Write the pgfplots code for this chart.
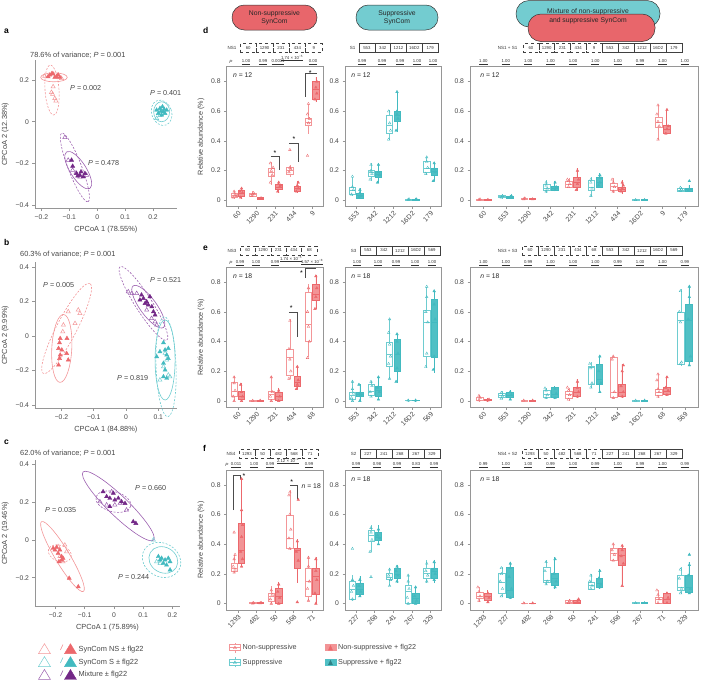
\documentclass[border=0pt]{standalone}
\usepackage{pgfplots}
\pgfplotsset{compat=1.18}
\usepgfplotslibrary{statistics}
\usepackage{fontspec}
\setmainfont{Liberation Sans}
\definecolor{nsred}{RGB}{236,104,108}
\definecolor{nsbox}{RGB}{243,150,152}
\definecolor{nsfill}{RGB}{242,148,150}
\definecolor{steal}{RGB}{66,186,192}
\definecolor{stbox}{RGB}{110,204,208}
\definecolor{stfill}{RGB}{80,192,197}
\definecolor{mixp}{RGB}{115,40,135}
\definecolor{mixpl}{RGB}{155,95,175}
\definecolor{pillred}{RGB}{232,102,107}
\definecolor{pillteal}{RGB}{115,204,208}
\definecolor{axgray}{RGB}{150,150,150}
\definecolor{tickgray}{RGB}{70,70,70}
\newcommand{\fs}[1]{\fontsize{#1}{#1}\selectfont}
\def\bxw{0.34}
\newcommand{\BO}[7]{\addplot[draw=#7, line width=0.5pt, boxplot prepared={draw direction=y, draw position=#1, lower whisker=#2, lower quartile=#3, median=#4, upper quartile=#5, upper whisker=#6, box extend=\bxw, whisker extend=0}] coordinates {};}
\newcommand{\BF}[8]{\addplot[draw=#7, fill=#8, line width=0.5pt, boxplot prepared={draw direction=y, draw position=#1, lower whisker=#2, lower quartile=#3, median=#4, upper quartile=#5, upper whisker=#6, box extend=\bxw, whisker extend=0}] coordinates {};}
\newcommand{\cells}[5]{\foreach \t [count=\i] in {#5} {\node[draw=black!75, #4, line width=0.35pt, minimum width=#3pt, minimum height=9pt, inner sep=0pt, font=\fs{4.3}, text=black!80] at ({#1pt+#3pt*(\i-0.5)},{-#2pt}) {\t};}}
\newcommand{\pv}[3]{\node[font=\fs{4.3}, text=black!80, inner sep=0.5pt] at (#1pt,-#2pt) {\underline{#3}};}
\newcommand{\nlab}[3]{\node[font=\fs{4.5}, text=black!80, anchor=east, inner sep=0.5pt] at (#1pt,-#2pt) {#3};}
\pgfplotsset{
 pc/.style={scale only axis, axis x line*=bottom, axis y line*=left, axis line style={axgray,line width=0.5pt,-}, tick style={axgray,line width=0.5pt}, tick align=outside, major tick length=2.5pt, tick label style={font=\fs{6.8}, text=tickgray}, label style={font=\fs{7.4}, text=tickgray}, clip=false},
 pro/.style={only marks, mark=triangle, mark size=2.4pt, mark options={draw=#1, line width=0.5pt, fill=none}},
 prf/.style={only marks, mark=triangle*, mark size=2.4pt, mark options={draw=#1, fill=#1}},
 bx/.style={scale only axis, height=140pt, xmin=0.4, ymin=-0.043, ymax=0.9, axis line style={axgray, line width=0.5pt}, tick style={axgray, line width=0.5pt}, tick align=outside, tick pos=left, major tick length=2.5pt, ytick={0,0.2,0.4,0.6,0.8}, yticklabels={0,0.2,0.4,0.6,0.8}, xticklabel style={rotate=45, anchor=north east, inner sep=1pt}, tick label style={font=\fs{6.8}, text=tickgray}, ylabel style={font=\fs{7.2}, text=tickgray}, clip=false, boxplot/draw direction=y},
 bx5/.style={bx, width=96.6pt, xmax=5.6, xtick={1,2,3,4,5}},
 bx10/.style={bx, width=228.3pt, xmax=10.6, xtick={1,2,3,4,5,6,7,8,9,10}},
 bo/.style={only marks, mark=triangle, mark size=1.5pt, mark options={draw=#1, line width=0.35pt, fill=none}},
 bf/.style={only marks, mark=triangle*, mark size=1.5pt, mark options={draw=#1, fill=#1}},
}
\newcommand{\nn}[1]{\node[anchor=north west, font=\fs{6.8}, text=black!85] at (rel axis cs:0.03,0.98) {\textit{n} = #1};}
\begin{document}
\begin{tikzpicture}
\useasboundingbox (0pt,0pt) rectangle (705pt,-683pt);
% panel letters
\foreach \l/\x/\y in {a/4/31,b/4/242,c/4/442,d/203/30,e/203/248,f/203/448}{\node[font=\bfseries\fs{8.5}, anchor=west, inner sep=0pt] at (\x pt,-\y pt) {\l};}
% titles
\node[font=\fs{7.4}, text=tickgray, anchor=west, inner sep=0pt] at (30pt,-55pt) {78.6\% of variance; \textit{P} = 0.001};
\node[font=\fs{7.4}, text=tickgray, anchor=west, inner sep=0pt] at (20pt,-254pt) {60.3\% of variance; \textit{P} = 0.001};
\node[font=\fs{7.4}, text=tickgray, anchor=west, inner sep=0pt] at (20pt,-453pt) {62.0\% of variance; \textit{P} = 0.001};
% ===== panel a
\begin{axis}[pc, at={(35pt,-208.3pt)}, anchor=south west, width=141.7pt, height=148.3pt,
 xmin=-0.223, xmax=0.285, ymin=-0.415, ymax=0.296,
 xtick={-0.2,-0.1,0,0.1,0.2}, xticklabels={−0.2,−0.1,0,0.1,0.2},
 ytick={-0.4,-0.2,0,0.2}, yticklabels={−0.4,−0.2,0,0.2},
 xlabel={CPCoA 1 (78.55\%)}, ylabel={CPCoA 2 (12.38\%)}]
\addplot[pro=nsbox] coordinates {(-0.158,0.168) (-0.164,0.141) (-0.160,0.132) (-0.152,0.112) (-0.148,0.100) (-0.128,0.208) (-0.188,0.219)};
\addplot[prf=nsred] coordinates {(-0.17,0.224) (-0.158,0.229) (-0.146,0.216) (-0.134,0.213) (-0.152,0.213) (-0.176,0.216) (-0.162,0.232) (-0.14,0.225)};
\addplot[pro=stbox] coordinates {(0.213,0.016) (0.225,0.03)};
\addplot[prf=steal] coordinates {(0.213,0.056) (0.225,0.064) (0.237,0.048) (0.243,0.04) (0.219,0.04) (0.231,0.032) (0.249,0.056) (0.234,0.072) (0.228,0.05) (0.24,0.06)};
\addplot[pro=mixpl] coordinates {(-0.116,-0.075) (-0.104,-0.184) (-0.088,-0.232) (-0.076,-0.245) (-0.062,-0.264) (-0.038,-0.256)};
\addplot[prf=mixp] coordinates {(-0.092,-0.184) (-0.088,-0.213) (-0.074,-0.248) (-0.062,-0.256) (-0.05,-0.264) (-0.044,-0.248) (-0.07,-0.26) (-0.058,-0.24)};
\draw[nsbox, line width=0.6pt] (axis cs:-0.155,0.213) ellipse [x radius=13.3pt, y radius=4.5pt];
\draw[nsbox, line width=0.6pt, dash pattern=on 2pt off 1.5pt, rotate around={4:(axis cs:-0.162,0.152)}] (axis cs:-0.162,0.152) ellipse [x radius=7pt, y radius=25pt];
\draw[stbox, line width=0.6pt] (axis cs:0.231,0.048) ellipse [x radius=8pt, y radius=10pt];
\draw[stbox, line width=0.6pt, dash pattern=on 2pt off 1.5pt, rotate around={20:(axis cs:0.231,0.043)}] (axis cs:0.231,0.043) ellipse [x radius=10pt, y radius=13pt];
\draw[mixpl, line width=0.6pt, rotate around={-57.5:(axis cs:-0.068,-0.232)}] (axis cs:-0.068,-0.232) ellipse [x radius=21.7pt, y radius=8pt];
\draw[mixpl, line width=0.6pt, dash pattern=on 2pt off 1.5pt, rotate around={-69:(axis cs:-0.080,-0.219)}] (axis cs:-0.080,-0.219) ellipse [x radius=36.7pt, y radius=6.7pt];
\end{axis}
\node[font=\fs{7.2}, text=tickgray, anchor=west, inner sep=0pt] at (70pt,-88pt) {\textit{P} = 0.002};
\node[font=\fs{7.2}, text=tickgray, anchor=west, inner sep=0pt] at (150pt,-93pt) {\textit{P} = 0.401};
\node[font=\fs{7.2}, text=tickgray, anchor=west, inner sep=0pt] at (88pt,-163pt) {\textit{P} = 0.478};
% ===== panel b
\begin{axis}[pc, at={(35pt,-408.3pt)}, anchor=south west, width=141.7pt, height=146.3pt,
 xmin=-0.282, xmax=0.157, ymin=-0.419, ymax=0.429,
 xtick={-0.2,-0.1,0,0.1}, xticklabels={−0.2,−0.1,0,0.1},
 ytick={-0.4,-0.2,0,0.2,0.4}, yticklabels={−0.4,−0.2,0,0.2,0.4},
 xlabel={CPCoA 1 (84.88\%)}, ylabel={CPCoA 2 (9.99\%)}]
\addplot[pro=nsbox] coordinates {(-0.179,0.141) (-0.148,0.151) (-0.143,0.131) (-0.158,0.073) (-0.194,0.064) (-0.196,0.025)};
\addplot[prf=nsred] coordinates {(-0.204,-0.014) (-0.206,-0.039) (-0.183,-0.014) (-0.209,-0.072) (-0.199,-0.081) (-0.204,-0.110) (-0.206,-0.130) (-0.209,-0.168) (-0.179,-0.139) (-0.184,-0.101)};
\addplot[pro=mixpl] coordinates {(0.007,0.257) (0.018,0.247) (0.033,0.247) (0.064,0.151) (0.090,0.083) (0.095,0.064) (0.079,0.102)};
\addplot[prf=mixp] coordinates {(0.043,0.209) (0.054,0.218) (0.064,0.199) (0.069,0.180) (0.080,0.170) (0.085,0.141) (0.090,0.122) (0.074,0.228) (0.059,0.189) (0.048,0.238)};
\addplot[pro=stbox] coordinates {(0.121,-0.100) (0.116,-0.178) (0.131,-0.226) (0.136,-0.236) (0.105,-0.255) (0.126,-0.139)};
\addplot[prf=steal] coordinates {(0.116,-0.039) (0.121,-0.081) (0.126,-0.110) (0.131,-0.130) (0.116,-0.158) (0.121,-0.197) (0.126,-0.245) (0.116,-0.236) (0.095,-0.120) (0.105,-0.091) (0.131,-0.072)};
\draw[nsbox, line width=0.6pt, rotate around={-3:(axis cs:-0.199,-0.072)}] (axis cs:-0.199,-0.072) ellipse [x radius=10pt, y radius=34pt];
\draw[nsbox, line width=0.6pt, dash pattern=on 2pt off 1.5pt, rotate around={62.6:(axis cs:-0.184,0.044)}] (axis cs:-0.184,0.044) ellipse [x radius=50.7pt, y radius=10pt];
\draw[mixpl, line width=0.6pt, rotate around={-54:(axis cs:0.069,0.170)}] (axis cs:0.069,0.170) ellipse [x radius=25.7pt, y radius=8.3pt];
\draw[mixpl, line width=0.6pt, dash pattern=on 2pt off 1.5pt, rotate around={-57.5:(axis cs:0.054,0.189)}] (axis cs:0.054,0.189) ellipse [x radius=43.5pt, y radius=8.3pt];
\draw[stbox, line width=0.6pt] (axis cs:0.121,-0.139) ellipse [x radius=10pt, y radius=40pt];
\draw[stbox, line width=0.6pt, dash pattern=on 2pt off 1.5pt, rotate around={2:(axis cs:0.124,-0.178)}] (axis cs:0.124,-0.178) ellipse [x radius=10pt, y radius=50pt];
\end{axis}
\node[font=\fs{7.2}, text=tickgray, anchor=west, inner sep=0pt] at (43pt,-285pt) {\textit{P} = 0.005};
\node[font=\fs{7.2}, text=tickgray, anchor=west, inner sep=0pt] at (150pt,-280pt) {\textit{P} = 0.521};
\node[font=\fs{7.2}, text=tickgray, anchor=west, inner sep=0pt] at (117pt,-378pt) {\textit{P} = 0.819};
% ===== panel c
\begin{axis}[pc, at={(35pt,-606.7pt)}, anchor=south west, width=145pt, height=146.7pt,
 xmin=-0.27, xmax=0.226, ymin=-0.354, ymax=0.424,
 xtick={-0.2,-0.1,0,0.1,0.2}, xticklabels={−0.2,−0.1,0,0.1,0.2},
 ytick={-0.2,0,0.2,0.4}, yticklabels={−0.2,0,0.2,0.4},
 xlabel={CPCoA 1 (75.89\%)}, ylabel={CPCoA 2 (19.46\%)}]
\addplot[pro=nsbox] coordinates {(-0.191,-0.035) (-0.168,-0.027) (-0.162,-0.062) (-0.185,-0.088) (-0.174,-0.115)};
\addplot[prf=nsred] coordinates {(-0.208,-0.044) (-0.196,-0.039) (-0.185,-0.053) (-0.191,-0.071) (-0.179,-0.088) (-0.174,-0.097) (-0.188,-0.115) (-0.179,-0.106) (-0.153,-0.203) (-0.122,-0.248) (-0.202,-0.053)};
\addplot[pro=mixpl] coordinates {(-0.008,0.256) (-0.025,0.186) (0.003,0.186) (0.021,0.195) (0.043,0.159) (-0.048,0.203)};
\addplot[prf=mixp] coordinates {(-0.037,0.256) (-0.025,0.230) (-0.014,0.221) (0.003,0.212) (0.015,0.221) (0.026,0.203) (0.038,0.194) (-0.014,0.177) (0.066,0.097) (0.075,0.088) (-0.002,0.248)};
\addplot[pro=stbox] coordinates {(0.135,0.0) (0.158,-0.124) (0.146,-0.115)};
\addplot[prf=steal] coordinates {(0.152,-0.088) (0.163,-0.097) (0.175,-0.106) (0.186,-0.097) (0.192,-0.115) (0.169,-0.124) (0.180,-0.133) (0.192,-0.159) (0.158,-0.106)};
\draw[nsbox, line width=0.6pt, rotate around={-59:(axis cs:-0.176,-0.088)}] (axis cs:-0.176,-0.088) ellipse [x radius=40.7pt, y radius=7.3pt];
\draw[nsbox, line width=0.6pt, dash pattern=on 2pt off 1.5pt, rotate around={-20:(axis cs:-0.185,-0.071)}] (axis cs:-0.185,-0.071) ellipse [x radius=12pt, y radius=8pt];
\draw[mixpl, line width=0.6pt, rotate around={-44:(axis cs:0.015,0.180)}] (axis cs:0.015,0.180) ellipse [x radius=49pt, y radius=10pt];
\draw[mixpl, line width=0.6pt, dash pattern=on 2pt off 1.5pt, rotate around={-15:(axis cs:-0.002,0.203)}] (axis cs:-0.002,0.203) ellipse [x radius=18pt, y radius=10pt];
\draw[stbox, line width=0.6pt, rotate around={-30:(axis cs:0.169,-0.106)}] (axis cs:0.169,-0.106) ellipse [x radius=15pt, y radius=12.7pt];
\draw[stbox, line width=0.6pt, dash pattern=on 2pt off 1.5pt, rotate around={-30:(axis cs:0.163,-0.106)}] (axis cs:0.163,-0.106) ellipse [x radius=20pt, y radius=16.7pt];
\end{axis}
\node[font=\fs{7.2}, text=tickgray, anchor=west, inner sep=0pt] at (45pt,-510pt) {\textit{P} = 0.035};
\node[font=\fs{7.2}, text=tickgray, anchor=west, inner sep=0pt] at (135pt,-488pt) {\textit{P} = 0.660};
\node[font=\fs{7.2}, text=tickgray, anchor=west, inner sep=0pt] at (118pt,-577pt) {\textit{P} = 0.244};
% PCoA legend
\begin{axis}[hide axis, scale only axis, width=10pt, height=10pt, xmin=0, xmax=1, ymin=0, ymax=1, at={(38pt,-643pt)}, anchor=north west,
 legend style={at={(0,1)}, anchor=north west, draw=none, fill=none, font=\fs{7.4}, text=tickgray, row sep=1.5pt, inner sep=0pt}, legend cell align=left]
\addlegendimage{legend image code/.code={\draw[nsbox, line width=0.5pt] (0pt,-4.5pt) -- (12pt,-4.5pt) -- (6pt,5.5pt) -- cycle; \node[text=nsred, font=\fs{7.5}\itshape] at (20pt,0.5pt) {/}; \fill[nsred] (26pt,-4.5pt) -- (38pt,-4.5pt) -- (32pt,5.5pt) -- cycle;}}
\addlegendentry{SynCom NS ± flg22}
\addlegendimage{legend image code/.code={\draw[stbox, line width=0.5pt] (0pt,-4.5pt) -- (12pt,-4.5pt) -- (6pt,5.5pt) -- cycle; \node[text=steal, font=\fs{7.5}\itshape] at (20pt,0.5pt) {/}; \fill[steal] (26pt,-4.5pt) -- (38pt,-4.5pt) -- (32pt,5.5pt) -- cycle;}}
\addlegendentry{SynCom S ± flg22}
\addlegendimage{legend image code/.code={\draw[mixpl, line width=0.5pt] (0pt,-4.5pt) -- (12pt,-4.5pt) -- (6pt,5.5pt) -- cycle; \node[text=mixp, font=\fs{7.5}\itshape] at (20pt,0.5pt) {/}; \fill[mixp] (26pt,-4.5pt) -- (38pt,-4.5pt) -- (32pt,5.5pt) -- cycle;}}
\addlegendentry{Mixture ± flg22}
\end{axis}
% ===== pills
\draw[fill=pillred, draw=black!80, line width=0.5pt, rounded corners=12.4pt] (232pt,-5pt) rectangle (317pt,-30pt);
\node[align=center, font=\fontsize{6.8}{8}\selectfont, text=black!85] at (274.5pt,-17.5pt) {Non-suppressive\\SynCom};
\draw[fill=pillteal, draw=black!80, line width=0.5pt, rounded corners=12.4pt] (356pt,-5pt) rectangle (438pt,-30pt);
\node[align=center, font=\fontsize{6.8}{8}\selectfont, text=black!85] at (397pt,-17.5pt) {Suppressive\\SynCom};
\draw[fill=pillteal, draw=black!80, line width=0.5pt, rounded corners=13pt] (516pt,-0.5pt) rectangle (660pt,-27pt);
\draw[fill=pillred, draw=black!80, line width=0.5pt, rounded corners=13pt] (528pt,-14pt) rectangle (655pt,-41.5pt);
\node[align=center, font=\fontsize{6.8}{9.5}\selectfont, text=black!85] at (588pt,-16pt) {Mixture of non-suppressive\\and suppressive SynCom};
% ===== headers row d
\nlab{237}{48}{NS1}\cells{240}{48}{16.4}{dashed}{60,1290,231,434,9}
\nlab{233}{62}{\textit{P}}
\pv{246}{62}{1.00}\pv{263}{62}{0.99}\pv{278}{62}{0.0011}\pv{292}{58}{1.74 × 10\textsuperscript{−5}}\pv{313}{62}{0.00}
\nlab{356}{48}{S1}\cells{359}{48}{15.8}{solid}{553,342,1212,16D2,179}
\pv{362}{62}{0.99}\pv{382}{62}{0.99}\pv{400}{62}{0.99}\pv{417}{62}{1.00}\pv{433}{62}{1.00}
\nlab{518}{48}{NS1 + S1}\cells{523}{48}{15.8}{dashed}{60,1290,231,434,9}\cells{602}{48}{16}{solid}{553,342,1212,16D2,179}
\pv{483.4}{62}{1.00}\pv{505.8}{62}{1.00}\pv{528.2}{62}{1.00}\pv{550.6}{62}{1.00}\pv{573}{62}{1.00}\pv{595.3}{62}{1.00}\pv{617.7}{62}{1.00}\pv{640.1}{62}{0.99}\pv{662.5}{62}{1.00}\pv{684.9}{62}{1.00}
% ===== headers row e
\nlab{237}{250.5}{NS3}\cells{240}{250.5}{15.4}{dashed}{60,1290,231,434,68}
\nlab{233}{263}{\textit{P}}
\pv{240}{263}{0.99}\pv{256}{263}{1.00}\pv{275}{263}{0.99}\pv{291}{259}{1.74 × 10\textsuperscript{−5}}\pv{312}{262}{1.57 × 10\textsuperscript{−8}}
\nlab{357}{250.5}{S3}\cells{360}{250.5}{16}{solid}{553,342,1212,16D2,569}
\pv{357}{263}{1.00}\pv{378}{263}{1.00}\pv{396}{263}{0.99}\pv{415}{263}{1.00}\pv{432}{263}{1.00}
\nlab{518}{250.5}{NS3 + S3}\cells{522}{250.5}{16}{dashed}{60,1290,231,434,68}\cells{602}{250.5}{16}{solid}{553,342,1212,16D2,569}
\pv{483.4}{263}{1.00}\pv{505.8}{263}{1.00}\pv{528.2}{263}{0.99}\pv{550.6}{263}{1.00}\pv{573}{263}{1.00}\pv{595.3}{263}{1.00}\pv{617.7}{263}{0.99}\pv{640.1}{263}{1.00}\pv{662.5}{263}{1.00}\pv{684.9}{263}{0.99}
% ===== headers row f
\nlab{236}{454}{NS4}\cells{239}{454}{15.8}{dashed}{1293,50,482,568,71}
\nlab{229}{465}{\textit{P}}
\pv{236}{465}{0.011}\pv{254}{465}{1.00}\pv{270}{465}{0.99}\pv{288}{461}{2.12 × 10\textsuperscript{−4}}\pv{309}{465}{0.99}
\nlab{357}{454}{S2}\cells{360}{454}{16}{solid}{227,241,268,267,329}
\pv{356}{465}{0.99}\pv{377}{465}{0.98}\pv{397}{465}{0.99}\pv{416}{465}{0.83}\pv{434}{465}{0.99}
\nlab{518}{454}{NS4 + S2}\cells{522}{454}{16}{dashed}{1293,50,482,568,71}\cells{602}{454}{16}{solid}{227,241,268,267,329}
\pv{483.4}{465}{0.99}\pv{505.8}{465}{1.00}\pv{528.2}{465}{1.00}\pv{550.6}{465}{0.99}\pv{573}{465}{1.00}\pv{595.3}{465}{0.99}\pv{617.7}{465}{1.00}\pv{640.1}{465}{0.99}\pv{662.5}{465}{1.00}\pv{684.9}{465}{0.99}
% ===== d1
\def\bxw{0.34}
\begin{axis}[bx5, at={(226.7pt,-206.7pt)}, anchor=south west, xticklabels={60,1290,231,434,9}, ylabel={Relative abundance (\%)}]
\BO{0.8}{0.01}{0.02}{0.035}{0.05}{0.065}{nsbox}\BF{1.2}{0.01}{0.025}{0.045}{0.07}{0.08}{nsred}{nsfill}
\BO{1.8}{0.02}{0.028}{0.038}{0.048}{0.06}{nsbox}\BF{2.2}{0.005}{0.01}{0.013}{0.018}{0.022}{nsred}{nsfill}
\BO{2.8}{0.105}{0.16}{0.19}{0.215}{0.26}{nsbox}\BF{3.2}{0.05}{0.076}{0.09}{0.105}{0.127}{nsred}{nsfill}
\BO{3.8}{0.16}{0.178}{0.205}{0.225}{0.24}{nsbox}\BF{4.2}{0.05}{0.06}{0.08}{0.098}{0.127}{nsred}{nsfill}
\BO{4.8}{0.45}{0.506}{0.528}{0.55}{0.65}{nsbox}\BF{5.2}{0.66}{0.68}{0.75}{0.8}{0.83}{nsred}{nsfill}
\addplot[bo=nsred] coordinates {(0.75,0.02) (0.85,0.04) (0.8,0.06) (0.9,0.03) (1.75,0.03) (1.85,0.05) (1.8,0.04) (2.75,0.12) (2.85,0.17) (2.8,0.2) (2.9,0.22) (2.75,0.25) (3.75,0.19) (3.85,0.21) (3.8,0.22) (3.8,0.34) (4.75,0.3) (4.8,0.52) (4.85,0.55) (4.75,0.58) (4.8,0.65)};
\addplot[bf=nsred] coordinates {(1.15,0.02) (1.25,0.05) (1.2,0.08) (1.1,0.06) (2.2,0.01) (2.25,0.015) (3.15,0.06) (3.25,0.09) (3.2,0.12) (3.3,0.1) (4.15,0.06) (4.25,0.08) (4.2,0.1) (4.25,0.12) (5.15,0.68) (5.25,0.72) (5.2,0.76) (5.25,0.8)};
\nn{12}
\draw[black!70, line width=0.4pt] (axis cs:2.78,0.294) -- (axis cs:3.25,0.294) -- (axis cs:3.25,0.205);
\node[font=\fs{7}] at (axis cs:3.0,0.32) {*};
\draw[black!70, line width=0.4pt] (axis cs:3.77,0.383) -- (axis cs:4.25,0.383) -- (axis cs:4.25,0.261);
\node[font=\fs{7}] at (axis cs:4.02,0.41) {*};
\draw[black!70, line width=0.4pt] (axis cs:4.62,0.696) -- (axis cs:4.62,0.856) -- (axis cs:5.24,0.856);
\node[font=\fs{7}] at (axis cs:4.9,0.86) {*};
\end{axis}
% ===== d2
\begin{axis}[bx5, at={(345pt,-206.7pt)}, anchor=south west, xticklabels={553,342,1212,16D2,179}]
\BO{0.8}{0.027}{0.038}{0.071}{0.089}{0.16}{stbox}\BF{1.2}{0.01}{0.016}{0.031}{0.049}{0.082}{steal}{stfill}
\BO{1.8}{0.127}{0.16}{0.187}{0.205}{0.25}{stbox}\BF{2.2}{0.116}{0.156}{0.178}{0.194}{0.25}{steal}{stfill}
\BO{2.8}{0.406}{0.45}{0.506}{0.573}{0.61}{stbox}\BF{3.2}{0.46}{0.53}{0.575}{0.6}{0.73}{steal}{stfill}
\BO{3.8}{0.0}{0.002}{0.005}{0.008}{0.012}{stbox}\BF{4.2}{0.0}{0.002}{0.005}{0.008}{0.012}{steal}{stfill}
\BO{4.8}{0.17}{0.19}{0.216}{0.26}{0.294}{stbox}\BF{5.2}{0.127}{0.17}{0.198}{0.216}{0.26}{steal}{stfill}
\addplot[bo=steal] coordinates {(0.75,0.04) (0.85,0.07) (0.8,0.09) (0.8,0.16) (1.75,0.14) (1.85,0.18) (1.8,0.2) (1.8,0.24) (2.75,0.41) (2.85,0.47) (2.8,0.52) (2.75,0.6) (3.8,0.005) (3.85,0.008) (4.75,0.18) (4.85,0.22) (4.8,0.26) (4.8,0.29)};
\addplot[bf=steal] coordinates {(1.15,0.02) (1.25,0.03) (1.2,0.05) (1.2,0.07) (2.15,0.12) (2.25,0.17) (2.2,0.19) (2.2,0.24) (3.15,0.47) (3.25,0.55) (3.2,0.58) (3.2,0.6) (3.2,0.73) (4.2,0.005) (4.25,0.007) (5.15,0.13) (5.25,0.19) (5.2,0.21) (5.2,0.25)};
\nn{12}
\end{axis}
% ===== d3
\def\bxw{0.3}
\begin{axis}[bx10, at={(470pt,-206.7pt)}, anchor=south west, xticklabels={60,553,1290,342,231,1212,434,16D2,9,179}]
\BO{0.82}{0.0}{0.002}{0.004}{0.006}{0.01}{nsbox}\BF{1.18}{0.0}{0.002}{0.004}{0.006}{0.01}{nsred}{nsfill}
\BO{1.82}{0.01}{0.018}{0.025}{0.035}{0.04}{stbox}\BF{2.18}{0.01}{0.016}{0.022}{0.03}{0.038}{steal}{stfill}
\BO{2.82}{0.003}{0.006}{0.01}{0.014}{0.02}{nsbox}\BF{3.18}{0.003}{0.006}{0.008}{0.012}{0.016}{nsred}{nsfill}
\BO{3.82}{0.05}{0.067}{0.083}{0.105}{0.138}{stbox}\BF{4.18}{0.06}{0.067}{0.083}{0.098}{0.127}{steal}{stfill}
\BO{4.82}{0.083}{0.089}{0.111}{0.127}{0.15}{nsbox}\BF{5.18}{0.06}{0.089}{0.12}{0.156}{0.216}{nsred}{nsfill}
\BO{5.82}{0.027}{0.067}{0.089}{0.138}{0.16}{stbox}\BF{6.18}{0.083}{0.089}{0.12}{0.156}{0.183}{steal}{stfill}
\BO{6.82}{0.049}{0.067}{0.094}{0.116}{0.149}{nsbox}\BF{7.18}{0.045}{0.06}{0.076}{0.089}{0.134}{nsred}{nsfill}
\BO{7.82}{0.0}{0.001}{0.003}{0.005}{0.008}{stbox}\BF{8.18}{0.0}{0.001}{0.003}{0.005}{0.008}{steal}{stfill}
\BO{8.82}{0.406}{0.495}{0.528}{0.557}{0.64}{nsbox}\BF{9.18}{0.45}{0.45}{0.477}{0.506}{0.606}{nsred}{nsfill}
\BO{9.82}{0.06}{0.062}{0.07}{0.08}{0.089}{stbox}\BF{10.18}{0.06}{0.064}{0.072}{0.08}{0.1}{steal}{stfill}
\addplot[bo=nsred] coordinates {(0.8,0.004) (0.85,0.008) (2.8,0.008) (2.85,0.014) (4.8,0.09) (4.85,0.11) (4.8,0.13) (4.75,0.14) (6.8,0.06) (6.85,0.09) (6.8,0.12) (6.75,0.14) (8.8,0.41) (8.85,0.5) (8.8,0.53) (8.75,0.58) (8.8,0.64)};
\addplot[bf=nsred] coordinates {(1.2,0.004) (3.2,0.008) (5.15,0.07) (5.2,0.11) (5.25,0.14) (5.2,0.2) (7.15,0.06) (7.2,0.08) (7.25,0.1) (7.2,0.12) (9.15,0.45) (9.2,0.48) (9.25,0.5) (9.2,0.61)};
\addplot[bo=steal] coordinates {(1.8,0.02) (1.85,0.03) (3.8,0.06) (3.85,0.08) (3.8,0.1) (3.8,0.12) (5.8,0.03) (5.85,0.08) (5.8,0.12) (5.8,0.14) (7.8,0.003) (9.8,0.065) (9.85,0.075) (9.8,0.085)};
\addplot[bf=steal] coordinates {(2.2,0.02) (2.25,0.03) (4.2,0.07) (4.25,0.09) (4.2,0.12) (6.15,0.1) (6.2,0.12) (6.25,0.15) (6.2,0.17) (8.2,0.003) (10.15,0.065) (10.2,0.075) (10.2,0.13)};
\nn{12}
\end{axis}
% ===== e1
\def\bxw{0.34}
\begin{axis}[bx5, at={(226.7pt,-407.3pt)}, anchor=south west, xticklabels={60,1290,231,434,68}, ylabel={Relative abundance (\%)}]
\BO{0.8}{0.0}{0.034}{0.068}{0.124}{0.17}{nsbox}\BF{1.2}{0.0}{0.011}{0.034}{0.068}{0.124}{nsred}{nsfill}
\BO{1.8}{0.0}{0.001}{0.003}{0.005}{0.008}{nsbox}\BF{2.2}{0.0}{0.001}{0.003}{0.005}{0.008}{nsred}{nsfill}
\BO{2.8}{0.0}{0.011}{0.045}{0.068}{0.169}{nsbox}\BF{3.2}{0.0}{0.007}{0.034}{0.056}{0.09}{nsred}{nsfill}
\BO{3.8}{0.146}{0.17}{0.293}{0.35}{0.552}{nsbox}\BF{4.2}{0.079}{0.101}{0.124}{0.169}{0.236}{nsred}{nsfill}
\BO{4.8}{0.293}{0.405}{0.518}{0.732}{0.788}{nsbox}\BF{5.2}{0.62}{0.676}{0.72}{0.788}{0.85}{nsred}{nsfill}
\addplot[bo=nsred] coordinates {(0.8,0) (0.75,0.03) (0.85,0.07) (0.8,0.12) (0.8,0.16) (1.8,0.002) (2.8,0) (2.75,0.03) (2.85,0.06) (2.8,0.16) (3.75,0.15) (3.85,0.2) (3.8,0.28) (3.75,0.35) (3.8,0.54) (4.75,0.29) (4.85,0.4) (4.8,0.5) (4.75,0.6) (4.8,0.76)};
\addplot[bf=nsred] coordinates {(1.2,0) (1.25,0.03) (1.2,0.06) (1.15,0.11) (2.2,0.002) (3.2,0) (3.25,0.03) (3.2,0.07) (4.15,0.08) (4.2,0.11) (4.25,0.14) (4.2,0.23) (5.15,0.62) (5.2,0.7) (5.25,0.76) (5.2,0.84)};
\nn{18}
\draw[black!70, line width=0.4pt] (axis cs:3.75,0.597) -- (axis cs:4.2,0.597) -- (axis cs:4.2,0.43);
\node[font=\fs{7}] at (axis cs:3.88,0.625) {*};
\draw[black!70, line width=0.4pt] (axis cs:4.65,0.83) -- (axis cs:4.65,0.895) -- (axis cs:5.2,0.895);
\node[font=\fs{7}] at (axis cs:4.42,0.86) {*};
\end{axis}
% ===== e2
\begin{axis}[bx5, at={(345pt,-407.3pt)}, anchor=south west, xticklabels={553,342,1212,16D2,569}]
\BO{0.8}{0.0}{0.011}{0.038}{0.056}{0.135}{stbox}\BF{1.2}{0.0}{0.029}{0.045}{0.056}{0.113}{steal}{stfill}
\BO{1.8}{0.029}{0.038}{0.068}{0.113}{0.135}{stbox}\BF{2.2}{0.011}{0.034}{0.074}{0.101}{0.158}{steal}{stfill}
\BO{2.8}{0.146}{0.236}{0.315}{0.394}{0.552}{stbox}\BF{3.2}{0.124}{0.203}{0.315}{0.417}{0.45}{steal}{stfill}
\BO{3.8}{0.0}{0.002}{0.004}{0.006}{0.01}{stbox}\BF{4.2}{0.0}{0.002}{0.004}{0.006}{0.01}{steal}{stfill}
\BO{4.8}{0.225}{0.304}{0.529}{0.608}{0.766}{stbox}\BF{5.2}{0.191}{0.293}{0.529}{0.687}{0.743}{steal}{stfill}
\addplot[bo=steal] coordinates {(0.8,0) (0.75,0.02) (0.85,0.05) (0.8,0.08) (0.8,0.13) (1.8,0.03) (1.75,0.06) (1.85,0.1) (1.8,0.13) (2.8,0.15) (2.75,0.25) (2.85,0.3) (2.8,0.38) (2.75,0.46) (2.8,0.55) (3.8,0.004) (4.75,0.23) (4.8,0.32) (4.85,0.53) (4.75,0.6) (4.8,0.7) (4.8,0.77)};
\addplot[bf=steal] coordinates {(1.2,0) (1.25,0.04) (1.2,0.05) (1.15,0.11) (2.2,0.01) (2.25,0.06) (2.15,0.09) (2.2,0.16) (3.15,0.13) (3.2,0.22) (3.25,0.32) (3.2,0.4) (3.2,0.45) (4.2,0.004) (5.15,0.21) (5.2,0.3) (5.25,0.55) (5.2,0.65) (5.2,0.74)};
\nn{18}
\end{axis}
% ===== e3
\def\bxw{0.3}
\begin{axis}[bx10, at={(470pt,-407.3pt)}, anchor=south west, xticklabels={60,553,1290,342,231,1212,434,16D2,68,569}]
\BO{0.82}{0.0}{0.002}{0.007}{0.023}{0.038}{nsbox}\BF{1.18}{0.0}{0.002}{0.005}{0.008}{0.02}{nsred}{nsfill}
\BO{1.82}{0.01}{0.023}{0.038}{0.052}{0.068}{stbox}\BF{2.18}{0.01}{0.023}{0.038}{0.056}{0.075}{steal}{stfill}
\BO{2.82}{0.0}{0.001}{0.003}{0.005}{0.008}{nsbox}\BF{3.18}{0.0}{0.001}{0.003}{0.005}{0.008}{nsred}{nsfill}
\BO{3.82}{0.011}{0.023}{0.045}{0.074}{0.09}{stbox}\BF{4.18}{0.011}{0.023}{0.045}{0.09}{0.1}{steal}{stfill}
\BO{4.82}{0.0}{0.016}{0.045}{0.068}{0.09}{nsbox}\BF{5.18}{0.023}{0.034}{0.056}{0.09}{0.146}{nsred}{nsfill}
\BO{5.82}{0.09}{0.113}{0.225}{0.236}{0.259}{stbox}\BF{6.18}{0.056}{0.113}{0.146}{0.248}{0.304}{steal}{stfill}
\BO{6.82}{0.011}{0.023}{0.056}{0.293}{0.304}{nsbox}\BF{7.18}{0.023}{0.034}{0.056}{0.113}{0.248}{nsred}{nsfill}
\BO{7.82}{0.0}{0.001}{0.003}{0.005}{0.008}{stbox}\BF{8.18}{0.0}{0.001}{0.003}{0.005}{0.008}{steal}{stfill}
\BO{8.82}{0.023}{0.038}{0.061}{0.079}{0.18}{nsbox}\BF{9.18}{0.034}{0.045}{0.068}{0.09}{0.169}{nsred}{nsfill}
\BO{9.82}{0.236}{0.248}{0.54}{0.597}{0.755}{stbox}\BF{10.18}{0.236}{0.27}{0.54}{0.653}{0.766}{steal}{stfill}
\addplot[bo=nsred] coordinates {(0.8,0.005) (0.85,0.02) (0.8,0.035) (2.8,0.003) (4.8,0.01) (4.85,0.04) (4.8,0.07) (4.75,0.09) (6.8,0.02) (6.85,0.06) (6.75,0.28) (6.8,0.3) (8.8,0.03) (8.85,0.06) (8.8,0.08) (8.75,0.14) (8.8,0.18)};
\addplot[bf=nsred] coordinates {(1.2,0.003) (1.25,0.01) (3.2,0.003) (5.2,0.03) (5.25,0.06) (5.2,0.09) (5.2,0.13) (7.2,0.03) (7.25,0.06) (7.15,0.1) (7.2,0.2) (7.25,0.24) (9.2,0.04) (9.25,0.07) (9.15,0.09) (9.2,0.16)};
\addplot[bo=steal] coordinates {(1.8,0.015) (1.85,0.035) (1.8,0.055) (3.8,0.02) (3.85,0.04) (3.8,0.07) (3.75,0.085) (5.8,0.09) (5.85,0.12) (5.8,0.22) (5.75,0.25) (7.8,0.003) (9.8,0.25) (9.85,0.26) (9.8,0.53) (9.75,0.6) (9.8,0.74)};
\addplot[bf=steal] coordinates {(2.2,0.01) (2.25,0.04) (2.2,0.06) (4.2,0.02) (4.25,0.05) (4.2,0.08) (6.2,0.06) (6.25,0.12) (6.15,0.2) (6.2,0.3) (8.2,0.003) (10.2,0.24) (10.25,0.3) (10.15,0.55) (10.2,0.7) (10.2,0.77)};
\nn{18}
\end{axis}
% ===== f1
\def\bxw{0.34}
\begin{axis}[bx5, at={(226.7pt,-610pt)}, anchor=south west, xticklabels={1293,482,50,568,71}, ylabel={Relative abundance (\%)}]
\BO{0.8}{0.205}{0.216}{0.239}{0.272}{0.33}{nsbox}\BF{1.2}{0.25}{0.272}{0.361}{0.54}{0.84}{nsred}{nsfill}
\BO{1.8}{0.0}{0.002}{0.004}{0.006}{0.01}{nsbox}\BF{2.2}{0.0}{0.002}{0.005}{0.008}{0.012}{nsred}{nsfill}
\BO{2.8}{0.0}{0.016}{0.049}{0.071}{0.116}{nsbox}\BF{3.2}{0.0}{0.004}{0.049}{0.105}{0.149}{nsred}{nsfill}
\BO{3.8}{0.361}{0.372}{0.439}{0.595}{0.763}{nsbox}\BF{4.2}{0.14}{0.239}{0.361}{0.372}{0.433}{nsred}{nsfill}
\BO{4.8}{0.016}{0.049}{0.149}{0.239}{0.321}{nsbox}\BF{5.2}{0.0}{0.06}{0.183}{0.239}{0.317}{nsred}{nsfill}
\addplot[bo=nsred] coordinates {(0.8,0.21) (0.85,0.23) (0.75,0.25) (0.8,0.3) (0.85,0.33) (0.8,0.48) (1.8,0.002) (1.85,0.005) (2.8,0) (2.75,0.03) (2.85,0.06) (2.8,0.09) (3.8,0.37) (3.75,0.44) (3.85,0.5) (3.8,0.6) (3.75,0.73) (3.8,0.75) (4.8,0.02) (4.75,0.1) (4.85,0.15) (4.8,0.25) (4.8,0.31)};
\addplot[bf=nsred] coordinates {(1.2,0.25) (1.25,0.3) (1.15,0.35) (1.2,0.45) (1.25,0.53) (1.2,0.63) (1.2,0.84) (2.2,0.003) (2.25,0.006) (3.2,0) (3.25,0.04) (3.15,0.08) (3.2,0.13) (4.2,0.01) (4.25,0.29) (4.15,0.35) (4.2,0.42) (4.25,0.7) (5.2,0) (5.15,0.07) (5.25,0.16) (5.2,0.22) (5.2,0.3)};
\node[anchor=north west, font=\fs{6.8}, text=black!85] at (rel axis cs:0.74,0.93) {\textit{n} = 18};
\draw[black!70, line width=0.4pt] (axis cs:0.76,0.629) -- (axis cs:0.76,0.863) -- (axis cs:1.15,0.863) -- (axis cs:1.15,0.84);
\node[font=\fs{7}] at (axis cs:1.33,0.86) {*};
\draw[black!70, line width=0.4pt] (axis cs:3.81,0.796) -- (axis cs:4.17,0.796) -- (axis cs:4.17,0.707);
\node[font=\fs{7}] at (axis cs:3.9,0.82) {*};
\end{axis}
% ===== f2
\begin{axis}[bx5, at={(345pt,-610pt)}, anchor=south west, xticklabels={227,268,241,267,329}]
\BO{0.8}{0.016}{0.027}{0.094}{0.149}{0.194}{stbox}\BF{1.2}{0.049}{0.06}{0.094}{0.138}{0.183}{steal}{stfill}
\BO{1.8}{0.35}{0.417}{0.461}{0.495}{0.528}{stbox}\BF{2.2}{0.395}{0.428}{0.446}{0.484}{0.528}{steal}{stfill}
\BO{2.8}{0.116}{0.161}{0.178}{0.205}{0.239}{stbox}\BF{3.2}{0.138}{0.172}{0.2}{0.239}{0.261}{steal}{stfill}
\BO{3.8}{0.0}{0.004}{0.083}{0.127}{0.194}{stbox}\BF{4.2}{0.0}{0.004}{0.038}{0.071}{0.116}{steal}{stfill}
\BO{4.8}{0.138}{0.172}{0.205}{0.239}{0.294}{stbox}\BF{5.2}{0.138}{0.172}{0.216}{0.239}{0.294}{steal}{stfill}
\addplot[bo=steal] coordinates {(0.8,0.03) (0.75,0.08) (0.85,0.12) (0.8,0.16) (0.8,0.37) (1.8,0.18) (1.75,0.35) (1.85,0.43) (1.8,0.48) (1.8,0.51) (2.8,0.12) (2.85,0.16) (2.75,0.19) (2.8,0.23) (3.8,0) (3.75,0.04) (3.85,0.1) (3.8,0.15) (3.8,0.19) (4.8,0.15) (4.85,0.19) (4.75,0.22) (4.8,0.27)};
\addplot[bf=steal] coordinates {(1.2,0.05) (1.25,0.08) (1.15,0.12) (1.2,0.16) (2.2,0.4) (2.25,0.44) (2.15,0.46) (2.2,0.5) (3.2,0.15) (3.25,0.19) (3.15,0.22) (3.2,0.25) (4.2,0) (4.25,0.02) (4.15,0.05) (4.2,0.11) (5.2,0.16) (5.25,0.2) (5.15,0.23) (5.2,0.28)};
\nn{18}
\end{axis}
% ===== f3
\def\bxw{0.3}
\begin{axis}[bx10, at={(470pt,-610pt)}, anchor=south west, xticklabels={1293,227,482,268,50,241,568,267,71,329}]
\BO{0.82}{0.011}{0.034}{0.052}{0.078}{0.112}{nsbox}\BF{1.18}{0.004}{0.022}{0.052}{0.067}{0.09}{nsred}{nsfill}
\BO{1.82}{0.045}{0.067}{0.146}{0.202}{0.247}{stbox}\BF{2.18}{0.034}{0.045}{0.09}{0.247}{0.28}{steal}{stfill}
\BO{2.82}{0.0}{0.001}{0.003}{0.005}{0.008}{nsbox}\BF{3.18}{0.0}{0.001}{0.003}{0.005}{0.008}{nsred}{nsfill}
\BO{3.82}{0.123}{0.146}{0.157}{0.247}{0.291}{stbox}\BF{4.18}{0.1}{0.123}{0.168}{0.202}{0.314}{steal}{stfill}
\BO{4.82}{0.0}{0.003}{0.011}{0.022}{0.034}{nsbox}\BF{5.18}{0.0}{0.004}{0.011}{0.025}{0.034}{nsred}{nsfill}
\BO{5.82}{0.09}{0.1}{0.123}{0.146}{0.2}{stbox}\BF{6.18}{0.1}{0.112}{0.135}{0.168}{0.235}{steal}{stfill}
\BO{6.82}{0.29}{0.291}{0.336}{0.37}{0.404}{nsbox}\BF{7.18}{0.123}{0.258}{0.325}{0.37}{0.392}{nsred}{nsfill}
\BO{7.82}{0.0}{0.002}{0.004}{0.006}{0.01}{stbox}\BF{8.18}{0.0}{0.002}{0.004}{0.006}{0.01}{steal}{stfill}
\BO{8.82}{0.0}{0.004}{0.027}{0.045}{0.09}{nsbox}\BF{9.18}{0.0}{0.004}{0.027}{0.067}{0.078}{nsred}{nsfill}
\BO{9.82}{0.067}{0.09}{0.112}{0.19}{0.247}{stbox}\BF{10.18}{0.063}{0.078}{0.112}{0.19}{0.28}{steal}{stfill}
\addplot[bo=nsred] coordinates {(0.8,0.02) (0.85,0.05) (0.8,0.08) (0.75,0.11) (2.8,0.003) (4.8,0.005) (4.85,0.02) (6.8,0.29) (6.85,0.33) (6.75,0.36) (6.8,0.4) (8.8,0.005) (8.85,0.03) (8.8,0.06) (8.75,0.09)};
\addplot[bf=nsred] coordinates {(1.2,0.01) (1.25,0.04) (1.2,0.07) (3.2,0.003) (5.2,0.01) (5.25,0.03) (7.2,0.12) (7.25,0.27) (7.15,0.32) (7.2,0.36) (7.2,0.39) (9.2,0.005) (9.25,0.04) (9.2,0.07)};
\addplot[bo=steal] coordinates {(1.8,0.05) (1.85,0.1) (1.75,0.15) (1.8,0.2) (1.8,0.24) (3.8,0.13) (3.85,0.15) (3.75,0.22) (3.8,0.28) (5.8,0.1) (5.85,0.12) (5.75,0.15) (5.8,0.19) (7.8,0.004) (9.8,0.07) (9.85,0.1) (9.75,0.17) (9.8,0.23)};
\addplot[bf=steal] coordinates {(2.2,0.04) (2.25,0.1) (2.15,0.18) (2.2,0.24) (2.2,0.27) (4.2,0.11) (4.25,0.15) (4.15,0.2) (4.2,0.3) (6.2,0.11) (6.25,0.13) (6.15,0.17) (6.2,0.22) (8.2,0.004) (10.2,0.07) (10.25,0.1) (10.15,0.19) (10.2,0.26) (10.2,0.33)};
\nn{18}
\end{axis}
% box legend
\begin{axis}[hide axis, scale only axis, width=10pt, height=10pt, xmin=0, xmax=1, ymin=0, ymax=1, at={(229pt,-642pt)}, anchor=north west,
 legend style={at={(0,1)}, anchor=north west, draw=none, fill=none, font=\fs{7.2}, text=tickgray, row sep=4pt, inner sep=0pt, /tikz/every even column/.append style={column sep=26pt}}, legend columns=2, legend cell align=left]
\addlegendimage{legend image code/.code={\draw[nsbox, line width=0.5pt] (0pt,-3pt) rectangle (11pt,3pt); \draw[nsbox, line width=0.5pt] (0pt,0pt) -- (11pt,0pt) (5.5pt,-5pt) -- (5.5pt,-3pt) (5.5pt,3pt) -- (5.5pt,5pt); \draw[nsred, line width=0.35pt] (4pt,-1.2pt) -- (7pt,-1.2pt) -- (5.5pt,1.5pt) -- cycle;}}
\addlegendentry{Non-suppressive}
\addlegendimage{legend image code/.code={\fill[nsfill] (0pt,-3pt) rectangle (11pt,3pt); \draw[nsfill, line width=0.5pt] (0pt,-3pt) rectangle (11pt,3pt); \fill[nsred] (3.5pt,-2.5pt) -- (7.5pt,-2.5pt) -- (5.5pt,2pt) -- cycle;}}
\addlegendentry{Non-suppressive + flg22}
\addlegendimage{legend image code/.code={\draw[stbox, line width=0.5pt] (0pt,-3pt) rectangle (11pt,3pt); \draw[stbox, line width=0.5pt] (0pt,0pt) -- (11pt,0pt) (5.5pt,-5pt) -- (5.5pt,-3pt) (5.5pt,3pt) -- (5.5pt,5pt); \draw[steal, line width=0.35pt] (4pt,-1.2pt) -- (7pt,-1.2pt) -- (5.5pt,1.5pt) -- cycle;}}
\addlegendentry{Suppressive}
\addlegendimage{legend image code/.code={\fill[stfill] (0pt,-3pt) rectangle (11pt,3pt); \draw[stfill, line width=0.5pt] (0pt,-3pt) rectangle (11pt,3pt); \fill[steal!70!black] (3.5pt,-2.5pt) -- (7.5pt,-2.5pt) -- (5.5pt,2pt) -- cycle;}}
\addlegendentry{Suppressive + flg22}
\end{axis}
\end{tikzpicture}
\end{document}
